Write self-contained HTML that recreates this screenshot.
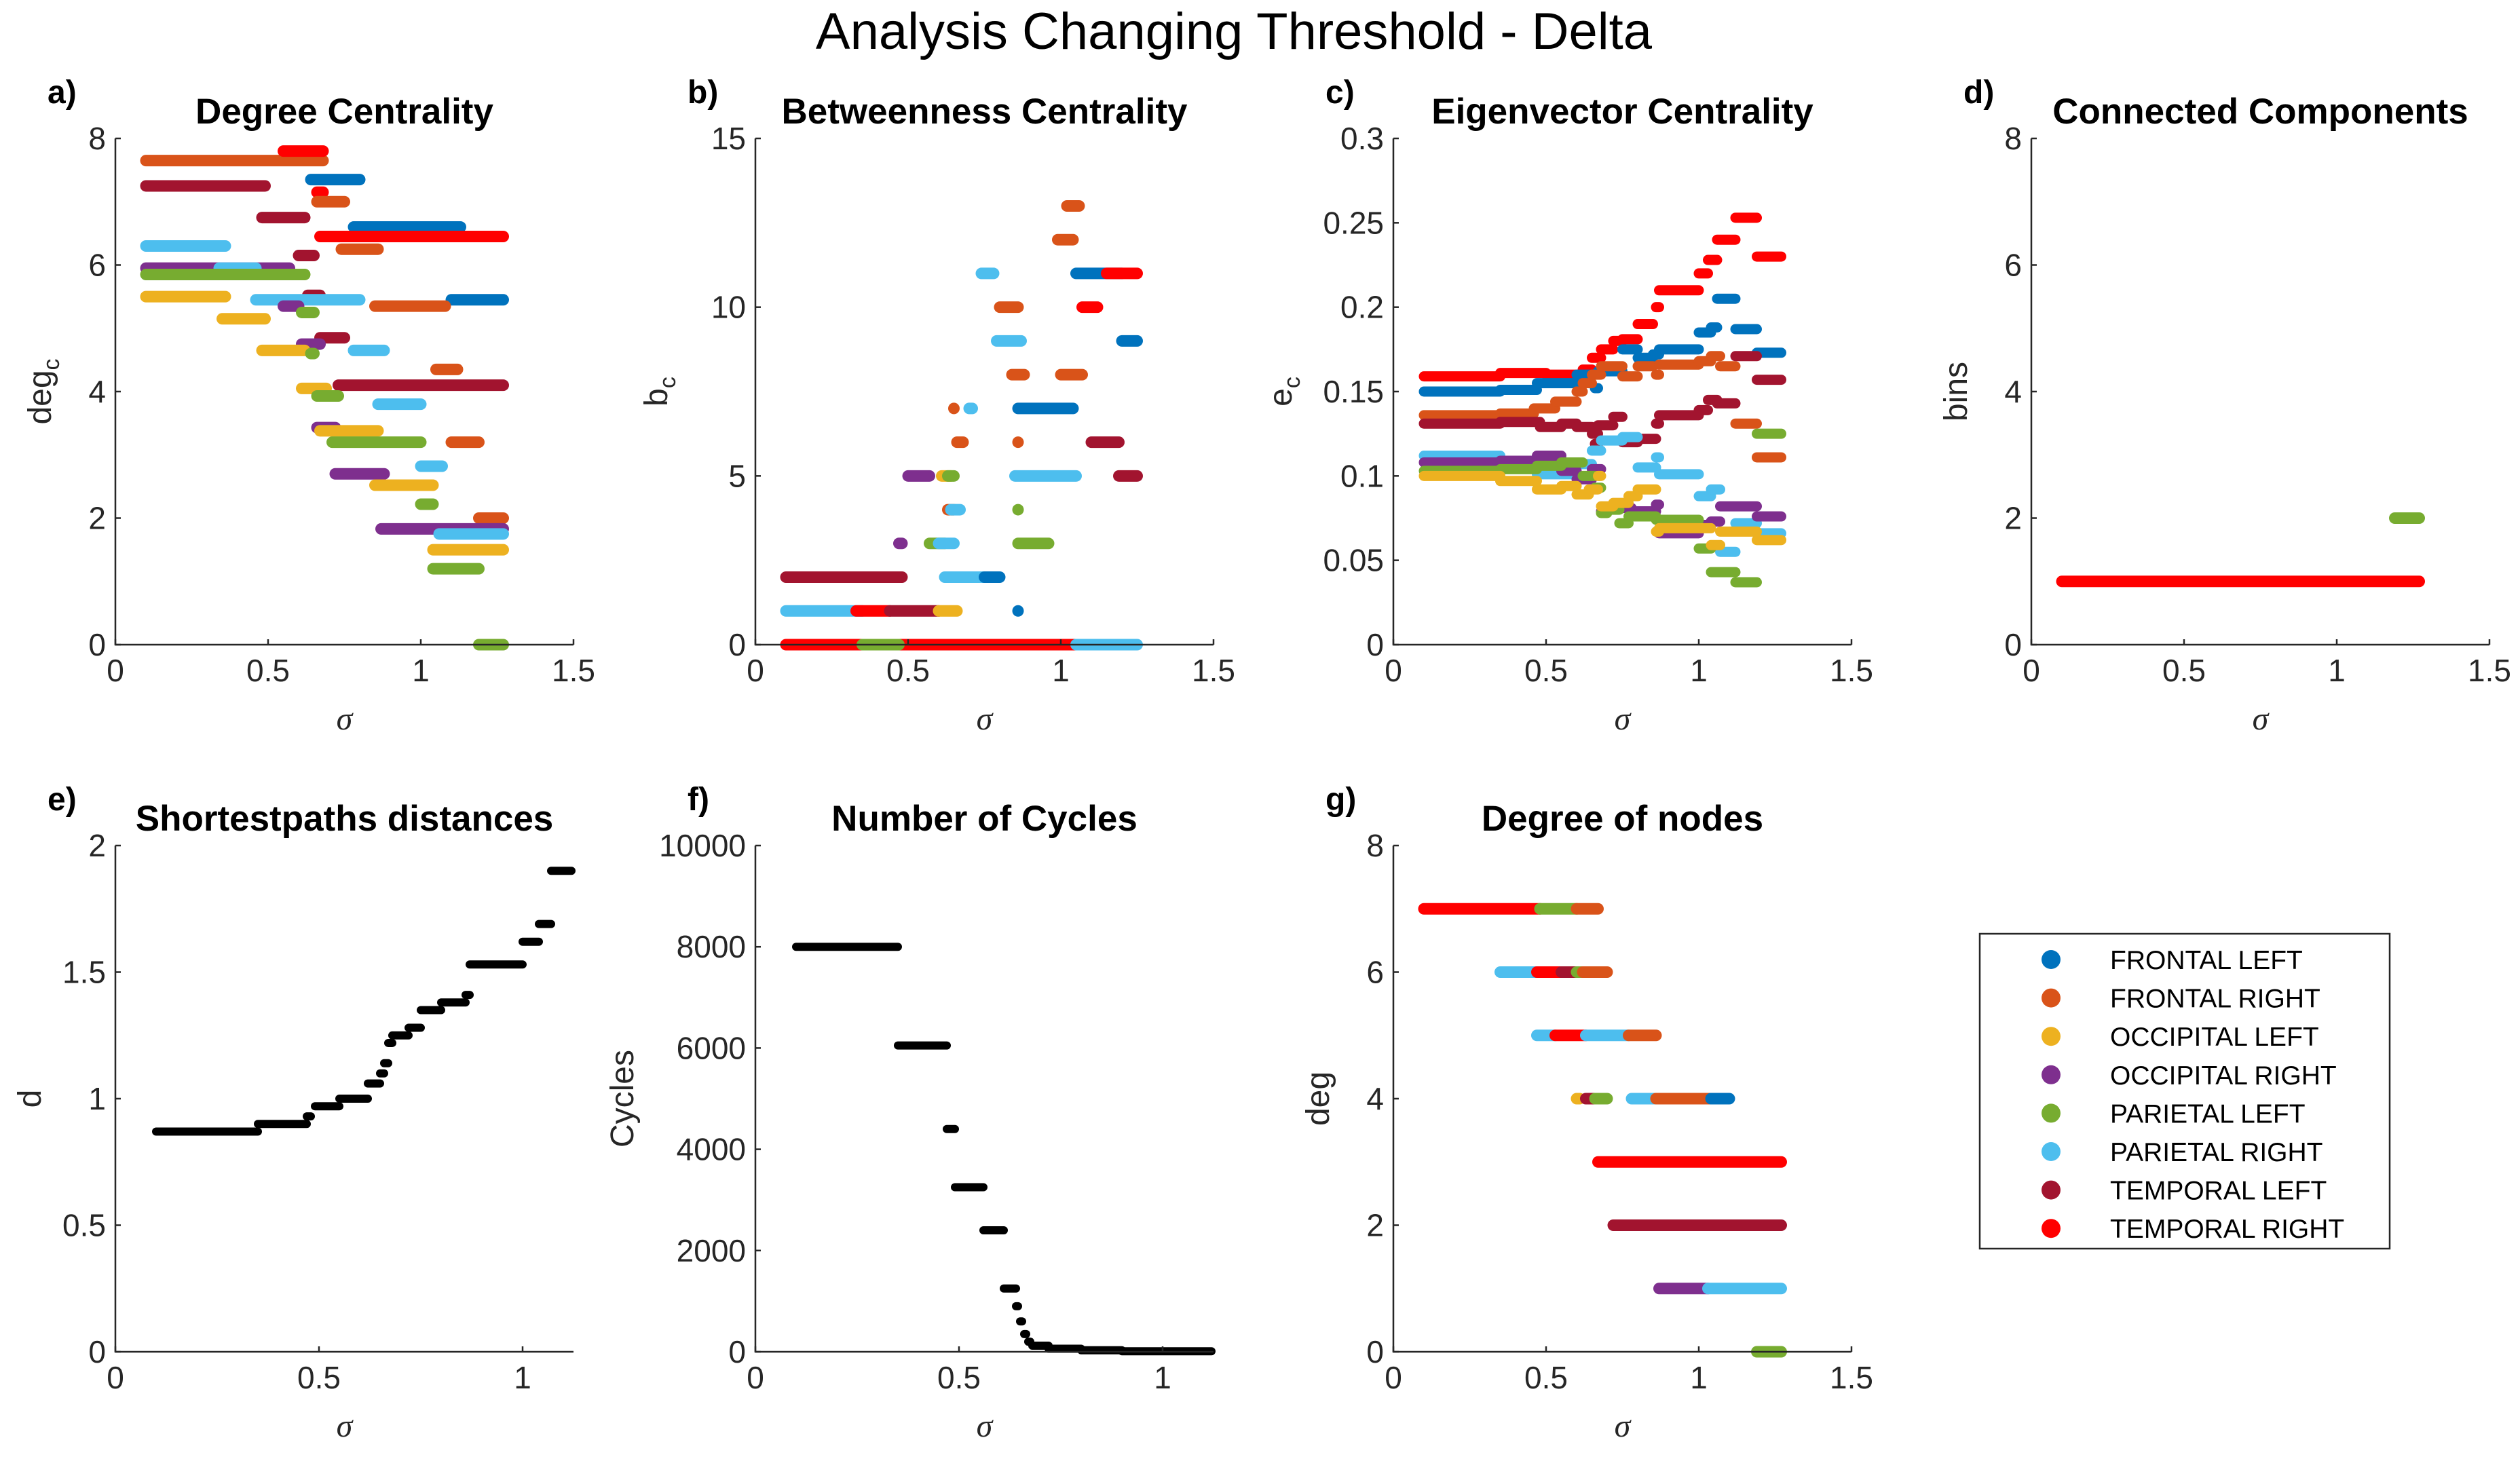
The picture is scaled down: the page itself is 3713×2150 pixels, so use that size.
<!DOCTYPE html>
<html><head><meta charset="utf-8"><style>
html,body{margin:0;padding:0;background:#fff;}
svg{display:block;font-family:"Liberation Sans",Arial,sans-serif;}
</style></head><body>
<svg id="fig" width="3713" height="2150" viewBox="0 0 3713 2150" xmlns="http://www.w3.org/2000/svg">
<text x="1818" y="72" font-size="76" text-anchor="middle" fill="#000">Analysis Changing Threshold - Delta</text>
</svg>
<script>
const seriesNames = ["FRONTAL LEFT","FRONTAL RIGHT","OCCIPITAL LEFT","OCCIPITAL RIGHT","PARIETAL LEFT","PARIETAL RIGHT","TEMPORAL LEFT","TEMPORAL RIGHT"];
const seriesColors = ["#0072BD","#D95319","#EDB120","#7E2F8E","#77AC30","#4DBEEE","#A2142F","#FF0000","#000000"];
// segments: [series, sigmaStart, sigmaEnd, value]
const degreeSegs = [[1,0.1,0.68,7.65],[7,0.55,0.68,7.8],[0,0.64,0.8,7.35],[6,0.1,0.49,7.25],[7,0.66,0.68,7.15],[1,0.66,0.75,7.0],[6,0.48,0.62,6.75],[0,0.78,1.13,6.6],[7,0.67,1.27,6.45],[5,0.1,0.36,6.3],[1,0.74,0.86,6.25],[6,0.6,0.65,6.15],[3,0.1,0.57,5.95],[5,0.34,0.46,5.95],[4,0.1,0.62,5.85],[2,0.1,0.36,5.5],[6,0.63,0.67,5.52],[5,0.46,0.8,5.45],[3,0.55,0.6,5.35],[0,1.1,1.27,5.45],[1,0.85,1.08,5.35],[4,0.61,0.65,5.25],[2,0.35,0.49,5.15],[6,0.67,0.75,4.85],[3,0.61,0.67,4.75],[5,0.78,0.88,4.65],[2,0.48,0.62,4.65],[4,0.64,0.65,4.6],[1,1.05,1.12,4.35],[6,0.73,1.27,4.1],[2,0.61,0.69,4.05],[4,0.66,0.73,3.93],[5,0.86,1.0,3.8],[3,0.66,0.72,3.43],[2,0.67,0.86,3.38],[4,0.71,1.0,3.2],[1,1.1,1.19,3.2],[5,1.0,1.07,2.82],[3,0.72,0.88,2.7],[2,0.85,1.04,2.52],[4,1.0,1.04,2.22],[1,1.19,1.27,2.0],[3,0.87,1.27,1.83],[5,1.06,1.27,1.75],[2,1.04,1.27,1.5],[4,1.04,1.19,1.2],[4,1.19,1.27,0]];
const betweenSegs = [[6,0.1,0.48,2],[5,0.1,0.35,1],[7,0.1,1.05,0],[5,1.05,1.25,0],[4,0.35,0.47,0],[7,0.33,0.44,1],[6,0.44,0.6,1],[2,0.6,0.66,1],[3,0.47,0.48,3],[3,0.5,0.57,5],[4,0.57,0.62,3],[5,0.6,0.65,3],[2,0.61,0.64,5],[4,0.63,0.65,5],[1,0.63,0.65,4],[5,0.64,0.67,4],[1,0.66,0.68,6],[1,0.65,0.65,7],[5,0.7,0.71,7],[5,0.74,0.78,11],[5,0.62,0.75,2],[0,0.75,0.8,2],[0,0.86,0.86,1],[1,0.86,0.86,6],[4,0.86,0.86,4],[1,0.84,0.88,8],[1,0.8,0.86,10],[5,0.79,0.87,9],[4,0.86,0.96,3],[5,0.85,1.05,5],[0,0.86,1.04,7],[1,0.99,1.04,12],[1,1.02,1.06,13],[0,1.05,1.2,11],[7,1.15,1.25,11],[7,1.07,1.12,10],[1,1.0,1.07,8],[6,1.1,1.19,6],[0,1.2,1.25,9],[6,1.19,1.25,5]];
const eigenSegs = [
[7,0.1,0.35,0.159],[7,0.35,0.5,0.161],[7,0.5,0.6,0.16],[7,0.6,0.62,0.157],[7,0.62,0.65,0.163],[7,0.65,0.68,0.17],[7,0.68,0.72,0.175],[7,0.72,0.75,0.18],[7,0.75,0.8,0.181],[7,0.8,0.85,0.19],[7,0.86,0.87,0.2],[7,0.87,1.0,0.21],[7,1.0,1.03,0.22],[7,1.03,1.06,0.228],[7,1.06,1.12,0.24],[7,1.12,1.19,0.253],[7,1.19,1.27,0.23],
[0,0.1,0.35,0.15],[0,0.35,0.47,0.151],[0,0.47,0.6,0.155],[0,0.6,0.66,0.16],[0,0.66,0.67,0.152],[0,0.67,0.75,0.162],[0,0.75,0.8,0.175],[0,0.8,0.85,0.17],[0,0.85,0.87,0.172],[0,0.87,1.0,0.175],[0,1.0,1.04,0.185],[0,1.04,1.06,0.188],[0,1.06,1.12,0.205],[0,1.12,1.19,0.187],[0,1.19,1.27,0.173],
[1,0.1,0.35,0.136],[1,0.35,0.46,0.137],[1,0.46,0.53,0.14],[1,0.53,0.6,0.144],[1,0.6,0.62,0.15],[1,0.62,0.65,0.155],[1,0.65,0.68,0.16],[1,0.68,0.75,0.165],[1,0.75,0.8,0.159],[1,0.8,0.85,0.165],[1,0.86,0.87,0.16],[1,0.87,1.0,0.166],[1,1.0,1.04,0.168],[1,1.04,1.07,0.171],[1,1.07,1.12,0.165],[1,1.12,1.19,0.131],[1,1.19,1.27,0.111],
[6,0.1,0.35,0.131],[6,0.35,0.48,0.132],[6,0.48,0.55,0.129],[6,0.55,0.6,0.131],[6,0.6,0.65,0.129],[6,0.65,0.67,0.125],[6,0.66,0.67,0.119],[6,0.67,0.72,0.13],[6,0.72,0.75,0.135],[6,0.75,0.8,0.12],[6,0.8,0.86,0.122],[6,0.86,0.87,0.131],[6,0.87,1.0,0.136],[6,1.0,1.03,0.139],[6,1.03,1.06,0.145],[6,1.06,1.12,0.143],[6,1.12,1.19,0.171],[6,1.19,1.27,0.157],
[5,0.1,0.35,0.112],[5,0.35,0.47,0.109],[5,0.47,0.6,0.101],[5,0.6,0.65,0.107],[5,0.65,0.68,0.115],[5,0.68,0.75,0.121],[5,0.75,0.8,0.123],[5,0.8,0.86,0.105],[5,0.86,0.87,0.111],[5,0.87,1.0,0.101],[5,1.0,1.04,0.088],[5,1.04,1.07,0.092],[5,1.07,1.12,0.055],[5,1.12,1.19,0.072],[5,1.19,1.27,0.066],
[3,0.1,0.35,0.108],[3,0.35,0.47,0.109],[3,0.47,0.55,0.112],[3,0.55,0.6,0.103],[3,0.6,0.65,0.098],[3,0.65,0.68,0.104],[3,0.68,0.7,0.079],[3,0.7,0.78,0.081],[3,0.78,0.86,0.079],[3,0.86,0.87,0.083],[3,0.87,1.0,0.066],[3,1.0,1.04,0.071],[3,1.04,1.07,0.073],[3,1.07,1.19,0.082],[3,1.19,1.27,0.076],
[4,0.1,0.35,0.103],[4,0.35,0.47,0.104],[4,0.47,0.55,0.106],[4,0.55,0.62,0.108],[4,0.62,0.66,0.1],[4,0.66,0.68,0.093],[4,0.68,0.7,0.078],[4,0.7,0.74,0.08],[4,0.74,0.77,0.072],[4,0.77,0.86,0.076],[4,0.86,1.0,0.074],[4,1.0,1.04,0.057],[4,1.04,1.12,0.043],[4,1.12,1.19,0.037],[4,1.19,1.27,0.125],
[2,0.1,0.35,0.1],[2,0.35,0.47,0.097],[2,0.47,0.55,0.092],[2,0.55,0.6,0.094],[2,0.6,0.64,0.089],[2,0.64,0.67,0.092],[2,0.67,0.68,0.1],[2,0.68,0.72,0.082],[2,0.72,0.77,0.084],[2,0.77,0.8,0.088],[2,0.8,0.86,0.092],[2,0.86,0.87,0.067],[2,0.87,1.04,0.069],[2,1.04,1.07,0.059],[2,1.07,1.19,0.067],[2,1.19,1.27,0.062]];
const compSegs = [[7,0.1,1.27,1],[4,1.19,1.27,2]];
const distSegs = [[8,0.1,0.35,0.87],[8,0.35,0.47,0.9],[8,0.47,0.48,0.93],[8,0.49,0.55,0.97],[8,0.55,0.62,1.0],[8,0.62,0.65,1.06],[8,0.65,0.66,1.1],[8,0.66,0.67,1.14],[8,0.67,0.68,1.22],[8,0.68,0.72,1.25],[8,0.72,0.75,1.28],[8,0.75,0.8,1.35],[8,0.8,0.86,1.38],[8,0.86,0.87,1.41],[8,0.87,1.0,1.53],[8,1.0,1.04,1.62],[8,1.04,1.07,1.69],[8,1.07,1.12,1.9]];
const cycleSegs = [[8,0.1,0.35,8000],[8,0.35,0.47,6050],[8,0.47,0.49,4400],[8,0.49,0.56,3250],[8,0.56,0.61,2400],[8,0.61,0.64,1250],[8,0.64,0.645,900],[8,0.65,0.655,600],[8,0.66,0.665,350],[8,0.67,0.675,200],[8,0.68,0.72,120],[8,0.72,0.8,60],[8,0.8,0.9,30],[8,0.9,1.12,10]];
const nodeSegs = [[7,0.1,0.48,7],[4,0.48,0.6,7],[1,0.6,0.67,7],[5,0.35,0.47,6],[7,0.47,0.55,6],[6,0.55,0.6,6],[4,0.6,0.63,6],[1,0.62,0.7,6],[5,0.47,0.53,5],[7,0.53,0.63,5],[5,0.63,0.77,5],[1,0.77,0.86,5],[2,0.6,0.61,4],[6,0.63,0.66,4],[4,0.66,0.7,4],[5,0.78,0.86,4],[1,0.86,1.04,4],[0,1.04,1.1,4],[7,0.67,1.27,3],[6,0.72,1.27,2],[3,0.87,1.03,1],[5,1.03,1.27,1],[4,1.19,1.27,0]];
const xTicks15 = [0,0.5,1,1.5];
const xTicks1 = [0,0.5,1];
const yTicksDeg = [0,2,4,6,8];
const yTicksBet = [0,5,10,15];
const yTicksEig = [0,0.05,0.1,0.15,0.2,0.25,0.3];
const yTicksDist = [0,0.5,1,1.5,2];
const yTicksCyc = [0,2000,4000,6000,8000,10000];

const NS="http://www.w3.org/2000/svg";
const svg=document.getElementById('fig');
function mk(tag,attrs,parent){const e=document.createElementNS(NS,tag);for(const k in attrs)e.setAttribute(k,attrs[k]);(parent||svg).appendChild(e);return e;}
const panels=[
 {id:'a',name:'degree-centrality',title:'Degree Centrality',ylab:'deg',sub:'c',x:170,y:204,xmax:1.5,xt:xTicks15,ymax:8,yt:yTicksDeg,segs:degreeSegs,sw:17,yo:95},
 {id:'b',name:'betweenness-centrality',title:'Betweenness Centrality',ylab:'b',sub:'c',x:1113,y:204,xmax:1.5,xt:xTicks15,ymax:15,yt:yTicksBet,segs:betweenSegs,sw:17,yo:130},
 {id:'c',name:'eigenvector-centrality',title:'Eigenvector Centrality',ylab:'e',sub:'c',x:2053,y:204,xmax:1.5,xt:xTicks15,ymax:0.3,yt:yTicksEig,segs:eigenSegs,sw:15,yo:150},
 {id:'d',name:'connected-components',title:'Connected Components',ylab:'bins',x:2993,y:204,xmax:1.5,xt:xTicks15,ymax:8,yt:yTicksDeg,segs:compSegs,sw:17,yo:95},
 {id:'e',name:'shortest-paths',title:'Shortestpaths distances',ylab:'d',x:170,y:1246,xmax:1.125,xt:xTicks1,ymax:2,yt:yTicksDist,segs:distSegs,sw:12,yo:110},
 {id:'f',name:'number-of-cycles',title:'Number of Cycles',ylab:'Cycles',x:1113,y:1246,xmax:1.125,xt:xTicks1,ymax:10000,yt:yTicksCyc,segs:cycleSegs,sw:12,yo:180},
 {id:'g',name:'degree-of-nodes',title:'Degree of nodes',ylab:'deg',x:2053,y:1246,xmax:1.5,xt:xTicks15,ymax:8,yt:yTicksDeg,segs:nodeSegs,sw:17,yo:95}
];
const W=675,H=746;
panels.forEach(p=>{
 const g=mk('g',{});
 
 
 const sx=v=>p.x+v/p.xmax*W, sy=v=>p.y+H-v/p.ymax*H;
 const lt=mk('text',{x:p.x-100,y:p.y-52,'font-size':48,'font-weight':'bold',fill:'#000'},g);lt.textContent=p.id+')';
 
 
 const tt=mk('text',{x:p.x+W/2,y:p.y-22,'font-size':53,'font-weight':'bold','text-anchor':'middle',fill:'#000'},g);tt.textContent=p.title;
 
 
 p.segs.forEach(s=>{
  const l=mk('line',{x1:sx(s[1]),x2:sx(s[2]),y1:sy(s[3]),y2:sy(s[3]),stroke:seriesColors[s[0]],'stroke-width':p.sw,'stroke-linecap':'round'},g);
  
  
 });
 const ax=mk('path',{d:`M${p.x} ${p.y}V${p.y+H}H${p.x+W}`,fill:'none',stroke:'#262626','stroke-width':2.5},g);
 
 
 p.xt.forEach(t=>{
  const X=sx(t);
  mk('line',{x1:X,x2:X,y1:p.y+H,y2:p.y+H-8,stroke:'#262626','stroke-width':2.5},g);
  const tx=mk('text',{x:X,y:p.y+H+54,'font-size':46,'text-anchor':'middle',fill:'#262626'},g);tx.textContent=String(t);
  
  
 });
 p.yt.forEach(t=>{
  const Y=sy(t);
  mk('line',{x1:p.x,x2:p.x+8,y1:Y,y2:Y,stroke:'#262626','stroke-width':2.5},g);
  const ty=mk('text',{x:p.x-14,y:Y+16,'font-size':46,'text-anchor':'end',fill:'#262626'},g);ty.textContent=String(t);
  
  
 });
 const xl=mk('text',{x:p.x+W/2,y:p.y+H+125,'font-size':48,'font-style':'italic','text-anchor':'middle',fill:'#262626','font-family':'"Liberation Serif",serif'},g);xl.textContent='σ';
 
 
 const yx=p.x-p.yo, yy=p.y+H/2;
 const yl=mk('text',{x:yx,y:yy,'font-size':48,'text-anchor':'middle',fill:'#262626',transform:`rotate(-90 ${yx} ${yy})`},g);
 yl.textContent=p.ylab;
 if(p.sub){const ts=mk('tspan',{'font-size':34,dy:12},yl);ts.textContent=p.sub;}
 
 
});
// legend
const lg=mk('g',{});


mk('rect',{x:2917,y:1376,width:604,height:464,fill:'#fff',stroke:'#262626','stroke-width':2.5},lg);
seriesNames.forEach((n,i)=>{
 const y=1414+i*56.6;
 const e=mk('g',{},lg);
 
 
 mk('circle',{cx:3022,cy:y,r:14,fill:seriesColors[i]},e);
 const t=mk('text',{x:3109,y:y+14,'font-size':39,fill:'#000'},e);t.textContent=n;
});
</script>
</body></html>
